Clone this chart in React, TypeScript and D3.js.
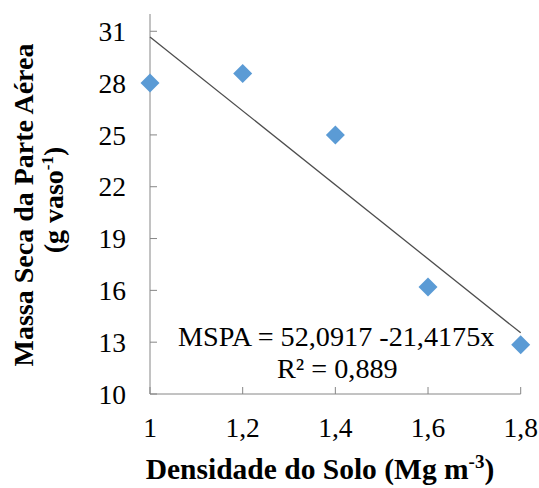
import React from "react";
import * as d3 from "d3";

const densities = [1.0, 1.2, 1.4, 1.6, 1.8];
const massValues = [28.0, 28.55, 25.0, 16.2, 12.85];
const yTicks = [10, 13, 16, 19, 22, 25, 28, 31];
const xTicks = [1.0, 1.2, 1.4, 1.6, 1.8];
const trendIntercept = 52.0917;
const trendSlope = -21.4175;
const equationLabel = "MSPA = 52,0917 -21,4175x";
const r2Label = "R² = 0,889";

const W = 539;
const H = 488;
const FONT = "'Liberation Serif', 'Times New Roman', serif";

export default function App() {
  const x = d3.scaleLinear().domain([1, 1.8]).range([150, 520.7]);
  const y = d3.scaleLinear().domain([10, 32]).range([394, 14]);
  const fmtX = (v: number) => (v === 1 ? "1" : d3.format(".1f")(v).replace(".", ","));
  const trend = d3.line<number>()
    .x((d) => x(d))
    .y((d) => y(trendIntercept + trendSlope * d));
  const axisColor = "#868686";
  const diamond = (cx: number, cy: number, r: number) =>
    `M${cx},${cy - r}L${cx + r},${cy}L${cx},${cy + r}L${cx - r},${cy}Z`;

  return (
    <svg width={W} height={H} style={{ position: "absolute", left: 0, top: 0, background: "#fff" }}>
      <rect width={W} height={H} fill="#fff" />
      {/* axes */}
      <line x1={x(1)} x2={x(1)} y1={y(32)} y2={y(10)} stroke={axisColor} strokeWidth={1} />
      <line x1={x(1)} x2={x(1.8)} y1={y(10)} y2={y(10)} stroke={axisColor} strokeWidth={1} />
      {yTicks.map((t) => (
        <g key={"y" + t}>
          <line x1={x(1)} x2={x(1) + 7} y1={y(t)} y2={y(t)} stroke={axisColor} />
          <text x={126} y={y(t)} dy="0.35em" textAnchor="end" fontFamily={FONT} fontSize={27.5} fill="#000">
            {t}
          </text>
        </g>
      ))}
      {xTicks.map((t) => (
        <g key={"x" + t}>
          <line x1={x(t)} x2={x(t)} y1={y(10)} y2={y(10) - 7} stroke={axisColor} />
          <text x={x(t)} y={437} textAnchor="middle" fontFamily={FONT} fontSize={27.5} fill="#000">
            {fmtX(t)}
          </text>
        </g>
      ))}
      {/* trendline */}
      <path d={trend([1, 1.8]) || ""} fill="none" stroke="#4d4d4d" strokeWidth={1.3} />
      {/* points */}
      {densities.map((d, i) => (
        <path key={"p" + i} d={diamond(x(d), y(massValues[i]), 9.5)} fill="#5B9BD5" />
      ))}
      {/* equation */}
      <text x={178} y={346} fontFamily={FONT} fontSize={28.2} fill="#000">{equationLabel}</text>
      <text x={277} y={378} fontFamily={FONT} fontSize={28.2} fill="#000">{r2Label}</text>
      {/* x title */}
      <text x={320} y={479} textAnchor="middle" fontFamily={FONT} fontSize={29.5} fontWeight="bold" fill="#000">
        Densidade do Solo (Mg m<tspan fontSize={19} dy={-11}>-3</tspan><tspan dy={11}>)</tspan>
      </text>
      {/* y title */}
      <g transform="translate(33,205) rotate(-90)">
        <text x={0} y={0} textAnchor="middle" fontFamily={FONT} fontSize={28} fontWeight="bold" fill="#000">
          Massa Seca da Parte Aérea
        </text>
      </g>
      <g transform="translate(63,200) rotate(-90)">
        <text x={0} y={0} textAnchor="middle" fontFamily={FONT} fontSize={28} fontWeight="bold" fill="#000">
          (g vaso<tspan fontSize={17} dy={-10}>-1</tspan><tspan dy={10}>)</tspan>
        </text>
      </g>
    </svg>
  );
}
